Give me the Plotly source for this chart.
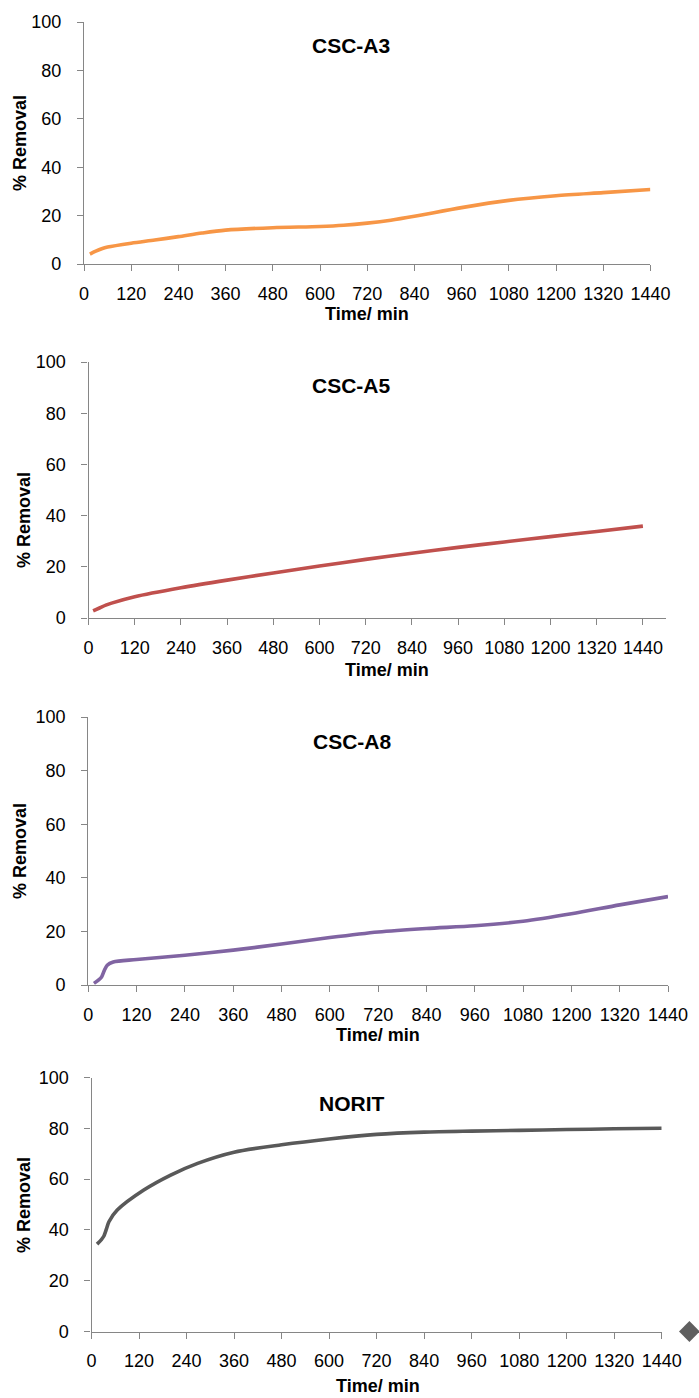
import plotly.graph_objects as go

W, H = 699, 1398

# ---- data ----
titles = ["CSC-A3", "CSC-A5", "CSC-A8", "NORIT"]
colors = ["#F79646", "#C0504D", "#8064A2", "#595959"]

t_a3 = [15, 30, 45, 60, 120, 180, 240, 300, 360, 480, 600, 660, 720, 780, 840, 960, 1080, 1200, 1320, 1440]
y_a3 = [4.1, 5.3, 6.3, 7.0, 8.6, 9.9, 11.3, 12.8, 14.0, 15.0, 15.5, 16.0, 16.9, 18.1, 19.7, 23.3, 26.3, 28.2, 29.5, 30.8]

t_a5 = [12, 30, 45, 60, 120, 240, 360, 480, 600, 720, 840, 960, 1080, 1200, 1320, 1440]
y_a5 = [2.8, 4.0, 5.0, 5.8, 8.3, 11.8, 14.8, 17.6, 20.3, 22.9, 25.3, 27.6, 29.7, 31.8, 33.8, 35.9]

t_a8 = [14, 25, 33, 40, 47, 62, 120, 240, 360, 480, 600, 720, 840, 960, 1080, 1200, 1320, 1440]
y_a8 = [0.6, 1.8, 3.0, 5.5, 7.4, 8.6, 9.5, 11.1, 13.0, 15.3, 17.7, 19.8, 21.1, 22.1, 23.8, 26.6, 29.9, 33.0]

t_norit = [14, 25, 31, 38, 44, 65, 132, 200, 268, 360, 480, 600, 720, 840, 960, 1080, 1200, 1320, 1440]
y_norit = [34.4, 36.2, 37.5, 40.5, 43.2, 47.8, 55.7, 61.6, 66.2, 70.6, 73.5, 75.8, 77.6, 78.5, 78.9, 79.2, 79.5, 79.8, 80.0]

x_ticks = [0, 120, 240, 360, 480, 600, 720, 840, 960, 1080, 1200, 1320, 1440]
y_ticks = [0, 20, 40, 60, 80, 100]
x_ranges = [[0, 1440], [0, 1500], [0, 1440], [0, 1440]]

# stray diamond marker to the right of the last panel
diamond_x = [1510]
diamond_y = [0]

series_t = [t_a3, t_a5, t_a8, t_norit]
series_y = [y_a3, y_a5, y_a8, y_norit]

# ---- layout geometry (pixels) ----
boxes = [
    (84, 650.4, 22, 264),
    (88.5, 666, 362, 618),
    (88.3, 668, 717, 985),
    (91.5, 661.7, 1077.5, 1331.5),
]
ytitle_pos = [(20, 143), (24, 520), (20, 851), (24, 1205)]
xtitle_pos = [(367, 314), (387, 670), (378, 1035), (378, 1386)]
title_pos = [(351, 46), (351, 386), (352, 741), (352, 1103)]

FONT = "Liberation Sans, Arial, sans-serif"
AX = "#868686"

def px(x):
    return x / W

def py(y):
    return 1 - y / H

fig = go.Figure()
layout = dict(
    width=W, height=H, margin=dict(l=0, r=0, t=0, b=0),
    paper_bgcolor="white", plot_bgcolor="rgba(0,0,0,0)", showlegend=False,
    font=dict(family=FONT, color="black", size=18),
)
annotations = []

for i in range(4):
    n = "" if i == 0 else str(i + 1)
    l, r, t, b = boxes[i]
    fig.add_trace(go.Scatter(
        x=series_t[i], y=series_y[i], mode="lines",
        line=dict(color=colors[i], width=3.6, shape="spline", smoothing=0.8),
        xaxis="x" + n, yaxis="y" + n, hoverinfo="skip",
    ))
    layout["xaxis" + n] = dict(
        domain=[px(l), px(r)], range=x_ranges[i], anchor="y" + n,
        tickmode="array", tickvals=x_ticks, ticktext=[str(v) for v in x_ticks],
        tickangle=0, automargin=False,
        showline=True, linecolor=AX, linewidth=1.3, ticks="outside",
        ticklen=6, tickwidth=1.3, tickcolor=AX, showgrid=False, zeroline=False,
        tickfont=dict(family=FONT, size=18, color="black"), ticklabelstandoff=7,
    )
    layout["yaxis" + n] = dict(
        domain=[py(b), py(t)], range=[0, 100], anchor="x" + n,
        tickmode="array", tickvals=y_ticks, automargin=False,
        showline=True, linecolor=AX, linewidth=1.3, ticks="outside",
        ticklen=6, tickwidth=1.3, tickcolor=AX, showgrid=False, zeroline=False,
        tickfont=dict(family=FONT, size=18, color="black"), ticklabelstandoff=12,
    )
    annotations.append(dict(
        text="<b>" + titles[i] + "</b>", x=px(title_pos[i][0]), y=py(title_pos[i][1]),
        xref="paper", yref="paper", showarrow=False, xanchor="center", yanchor="middle",
        font=dict(family=FONT, size=21, color="black"),
    ))
    annotations.append(dict(
        text="<b>Time/ min</b>", x=px(xtitle_pos[i][0]), y=py(xtitle_pos[i][1]),
        xref="paper", yref="paper", showarrow=False, xanchor="center", yanchor="middle",
        font=dict(family=FONT, size=18, color="black"),
    ))
    annotations.append(dict(
        text="<b>% Removal</b>", x=px(ytitle_pos[i][0]), y=py(ytitle_pos[i][1]),
        xref="paper", yref="paper", showarrow=False, xanchor="center", yanchor="middle",
        textangle=-90, font=dict(family=FONT, size=18, color="black"),
    ))

# invisible helper axis sharing the last panel's scale, extended to the page edge
l4, r4, t4, b4 = boxes[3]
ext = x_ranges[3][1] * (W - l4) / (r4 - l4)
layout["xaxis5"] = dict(
    domain=[px(l4), 1.0], range=[0, ext], anchor="y4",
    visible=False, automargin=False, showgrid=False, zeroline=False,
)

fig.add_trace(go.Scatter(
    x=[v + 5 for v in diamond_x], y=[v - 1.5 for v in diamond_y], mode="markers",
    marker=dict(symbol="diamond", size=17, color="rgba(150,150,150,0.35)", line=dict(width=0)),
    xaxis="x5", yaxis="y4", cliponaxis=False, hoverinfo="skip",
))
fig.add_trace(go.Scatter(
    x=diamond_x, y=diamond_y, mode="markers",
    marker=dict(symbol="diamond", size=16, color="#5f5f5f", line=dict(width=0)),
    xaxis="x5", yaxis="y4", cliponaxis=False, hoverinfo="skip",
))

layout["annotations"] = annotations
fig.update_layout(**layout)
fig.write_html("out.html")
